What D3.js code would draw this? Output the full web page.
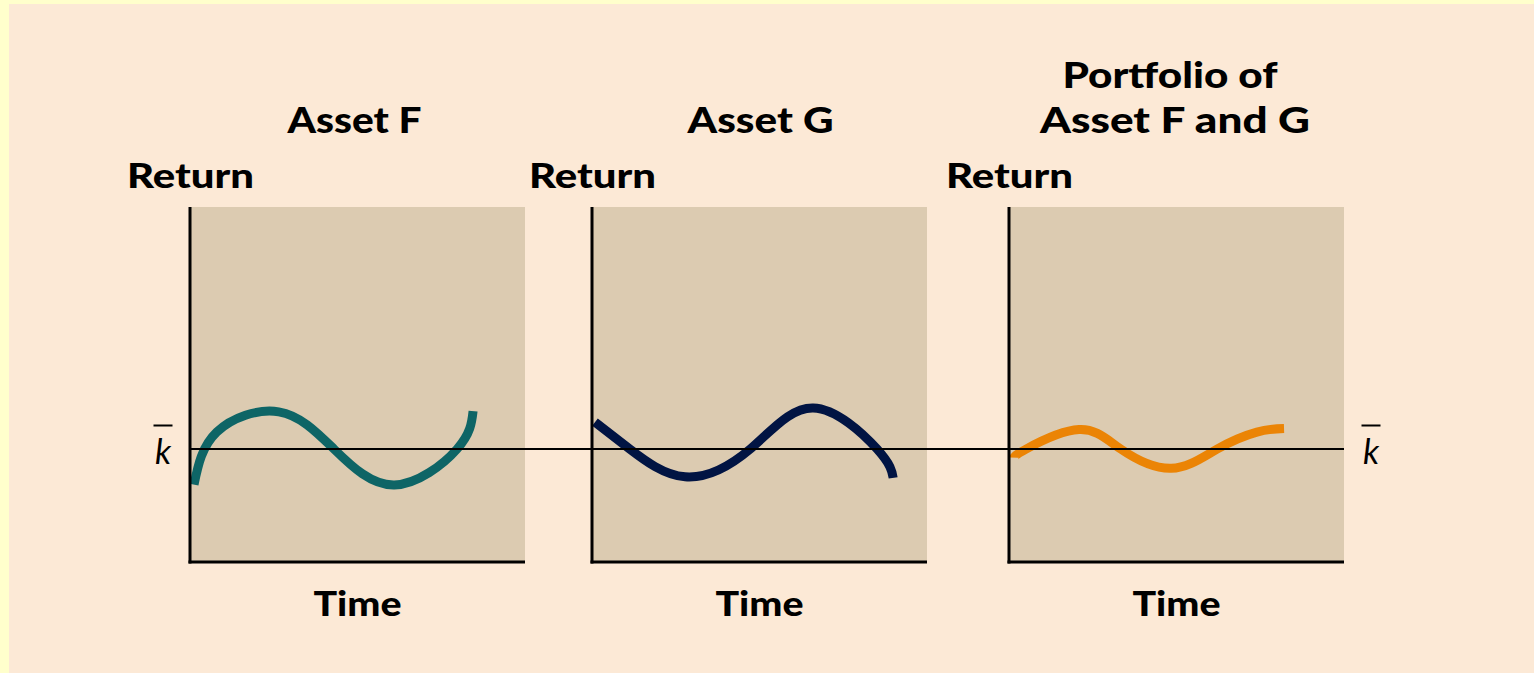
<!DOCTYPE html>
<html>
<head>
<meta charset="utf-8">
<script src="https://cdn.jsdelivr.net/npm/d3@7"></script>
<style>
  html, body { margin: 0; padding: 0; background: #FFFFCC; }
  svg { display: block; }
  text { font-family: Lato, "Open Sans", sans-serif; }
</style>
</head>
<body>
<svg id="chart" width="1534" height="673"></svg>
<script>
// ---- data ----
const panels = ["Asset F", "Asset G", "Portfolio of Asset F and G"];
const titleLines = [["Asset F"], ["Asset G"], ["Portfolio of", "Asset F and G"]];
const seriesColors = ["#0E6566", "#011443", "#EB8405"];
const kBar = 31.8; // expected return level (return scale 0..100)
const xLabel = "Time";
const yLabel = "Return";

// time (0..100) / return (0..100)
const assetF = [
  [1.2, 21.8], [8.0, 36.6], [26.5, 42.3], [43.0, 31.8], [61.0, 21.7], [79.7, 31.8], [84.5, 42.5]
];
const assetG = [
  [0.9, 39.4], [11.3, 31.8], [27.8, 24.0], [47.2, 31.8], [66.0, 43.4], [85.1, 31.8], [89.9, 23.7]
];
const portfolio = [
  [1.5, 29.4], [5.1, 31.8], [20.9, 37.3], [33.4, 31.8], [48.4, 26.4], [62.1, 31.8], [74.0, 36.6], [82.1, 37.6]
];
const series = [assetF, assetG, portfolio];

// ---- layout ----
const svg = d3.select("#chart");
const W = 1534, H = 673;
svg.append("rect").attr("x", 9).attr("y", 4).attr("width", W - 9).attr("height", H - 4).attr("fill", "#FCE9D6");

const plotLefts = [190, 592, 1009];
const plotW = 335;
const plotTop = 207, plotBottom = 562;

const y = d3.scaleLinear().domain([0, 100]).range([plotBottom, plotTop]);

panels.forEach((name, i) => {
  const x0 = plotLefts[i];
  const x = d3.scaleLinear().domain([0, 100]).range([x0, x0 + plotW]);
  const g = svg.append("g");

  g.append("rect")
    .attr("x", x(0)).attr("y", y(100))
    .attr("width", x(100) - x(0)).attr("height", y(0) - y(100))
    .attr("fill", "#DCCBB1");

  // curve
  const line = d3.line().x(d => x(d[0])).y(d => y(d[1])).curve(d3.curveNatural);
  g.append("path")
    .datum(series[i])
    .attr("d", line)
    .attr("fill", "none")
    .attr("stroke", seriesColors[i])
    .attr("stroke-width", 9)
    .attr("stroke-linecap", "butt");

  // axes
  g.append("line")
    .attr("x1", x(0)).attr("x2", x(0))
    .attr("y1", y(100)).attr("y2", y(0) + 1.5)
    .attr("stroke", "#000").attr("stroke-width", 3);
  g.append("line")
    .attr("x1", x(0) - 1.5).attr("x2", x(100))
    .attr("y1", y(0)).attr("y2", y(0))
    .attr("stroke", "#000").attr("stroke-width", 3);

  const cx = x(50);
  // Time label
  g.append("text")
    .attr("x", cx).attr("y", 616)
    .attr("text-anchor", "middle")
    .attr("font-size", 35).attr("font-weight", 900)
    .attr("textLength", 88).attr("lengthAdjust", "spacingAndGlyphs")
    .text(xLabel);

  // Return label
  g.append("text")
    .attr("x", x0 - 63).attr("y", 188)
    .attr("font-size", 35).attr("font-weight", 900)
    .attr("textLength", 127).attr("lengthAdjust", "spacingAndGlyphs")
    .text(yLabel);

  // Title
  const lines = titleLines[i];
  const widths = {"Asset F": 134, "Asset G": 146, "Portfolio of": 215, "Asset F and G": 270};
  lines.forEach((t, j) => {
    const base = 133 - (lines.length - 1 - j) * 45;
    g.append("text")
      .attr("x", (t === "Portfolio of" ? 1170 : (i === 2 ? 1175 : cx + (i === 1 ? 1 : -3))))
      .attr("y", base)
      .attr("text-anchor", "middle")
      .attr("font-size", 36).attr("font-weight", 900)
      .attr("textLength", widths[t]).attr("lengthAdjust", "spacingAndGlyphs")
      .text(t);
  });
});

// k-bar line across all panels
const xAll = d3.scaleLinear().domain([0, 100]).range([plotLefts[0], plotLefts[2] + plotW]);
svg.append("line")
  .attr("x1", xAll(0)).attr("x2", xAll(100))
  .attr("y1", y(kBar)).attr("y2", y(kBar))
  .attr("stroke", "#000").attr("stroke-width", 2);

// k-bar labels
[163, 1371].forEach(kx => {
  svg.append("text")
    .attr("x", kx).attr("y", 464)
    .attr("text-anchor", "middle")
    .attr("font-size", 34).attr("font-weight", 400)
    .attr("font-style", "italic")
    .attr("font-family", "'Noto Sans', sans-serif")
    .text("k");
  svg.append("line")
    .attr("x1", kx - 9.5).attr("x2", kx + 9.5)
    .attr("y1", 425.5).attr("y2", 425.5)
    .attr("stroke", "#000").attr("stroke-width", 2);
});
</script>
</body>
</html>
